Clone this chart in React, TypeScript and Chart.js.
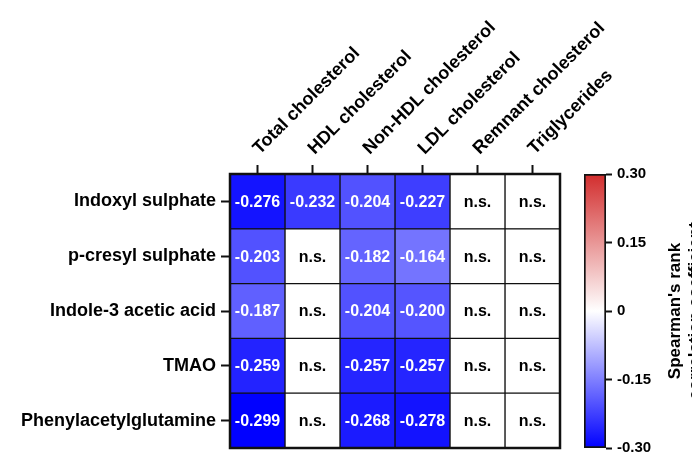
import React, { useEffect, useRef } from "react";
import { Chart, registerables } from "chart.js";

Chart.register(...registerables);

const ROWS = [
  "Indoxyl sulphate",
  "p-cresyl sulphate",
  "Indole-3 acetic acid",
  "TMAO",
  "Phenylacetylglutamine",
];
const COLUMNS = [
  "Total cholesterol",
  "HDL cholesterol",
  "Non-HDL cholesterol",
  "LDL cholesterol",
  "Remnant cholesterol",
  "Triglycerides",
];
// null = n.s.
const TOTAL_CHOL = [-0.276, -0.203, -0.187, -0.259, -0.299];
const HDL_CHOL = [-0.232, null, null, null, null];
const NON_HDL_CHOL = [-0.204, -0.182, -0.204, -0.257, -0.268];
const LDL_CHOL = [-0.227, -0.164, -0.2, -0.257, -0.278];
const REMNANT_CHOL = [null, null, null, null, null];
const TRIGLYCERIDES = [null, null, null, null, null];
const COLUMN_VALUES: (number | null)[][] = [
  TOTAL_CHOL,
  HDL_CHOL,
  NON_HDL_CHOL,
  LDL_CHOL,
  REMNANT_CHOL,
  TRIGLYCERIDES,
];
const SCALE_MIN = -0.3;
const SCALE_MAX = 0.3;
const SCALE_TICKS = [-0.3, -0.15, 0, 0.15, 0.3];
const SCALE_TICK_LABELS = ["-0.30", "-0.15", "0", "0.15", "0.30"];
const SCALE_TITLE = ["Spearman's rank", "correlation coefficient"];

const FONT = "'Liberation Sans', Arial, sans-serif";
const BLUE = [0, 0, 255];
const RED = [210, 45, 45];

function colorFor(v: number | null): string {
  if (v === null) return "#ffffff";
  const t = Math.min(1, Math.abs(v) / SCALE_MAX);
  const end = v < 0 ? BLUE : RED;
  const c = end.map((e) => Math.round(255 + (e - 255) * t));
  return `rgb(${c[0]},${c[1]},${c[2]})`;
}

const W = 692;
const H = 454;

export default function App() {
  const mainRef = useRef<HTMLCanvasElement>(null);
  const barRef = useRef<HTMLCanvasElement>(null);

  useEffect(() => {
    const valueLabels = {
      id: "valueLabels",
      afterDatasetsDraw(chart: any) {
        const ctx = chart.ctx;
        ctx.save();
        ctx.font = `bold 16px ${FONT}`;
        ctx.textAlign = "center";
        ctx.textBaseline = "middle";
        COLUMN_VALUES.forEach((col, j) => {
          const meta = chart.getDatasetMeta(j);
          meta.data.forEach((el: any, i: number) => {
            const v = col[i];
            const p = el.getCenterPoint();
            ctx.fillStyle = v === null ? "#000" : "#fff";
            ctx.fillText(v === null ? "n.s." : v.toFixed(3), p.x, p.y + 1);
          });
        });
        const a = chart.chartArea;
        ctx.strokeStyle = "#111";
        ctx.lineWidth = 2.5;
        ctx.strokeRect(a.left, a.top, a.right - a.left, a.bottom - a.top);
        ctx.restore();
      },
    };

    const main = new Chart(mainRef.current!, {
      type: "bar",
      data: {
        labels: ROWS,
        datasets: COLUMN_VALUES.map((col, j) => ({
          label: COLUMNS[j],
          data: ROWS.map(() => [j - 0.5, j + 0.5]),
          backgroundColor: col.map((v) => colorFor(v)),
          borderColor: "#111",
          borderWidth: 1,
          borderSkipped: false,
          grouped: false,
          barPercentage: 1,
          categoryPercentage: 1,
        })),
      } as any,
      options: {
        indexAxis: "y",
        responsive: false,
        animation: false,
        layout: { padding: { left: 0, top: 0, right: W - 560, bottom: H - 448 } },
        plugins: { legend: { display: false }, tooltip: { enabled: false } },
        scales: {
          y: {
            type: "category",
            position: "left",
            afterFit(axis: any) {
              axis.width = 230;
              axis.paddingTop = 0;
              axis.paddingBottom = 0;
            },
            grid: {
              display: true,
              offset: false,
              drawOnChartArea: false,
              drawTicks: true,
              tickLength: 9,
              tickWidth: 2,
              tickColor: "#111",
            },
            border: { display: false },
            ticks: {
              color: "#000",
              padding: 5,
              font: { family: FONT, size: 18, weight: "bold" },
            },
          },
          x: {
            type: "linear",
            position: "top",
            min: -0.5,
            max: COLUMNS.length - 0.5,
            afterFit(axis: any) {
              axis.height = 174;
              axis.paddingLeft = 0;
              axis.paddingRight = 0;
            },
            afterBuildTicks(axis: any) {
              axis.ticks = COLUMNS.map((_, i) => ({ value: i }));
            },
            grid: {
              display: true,
              drawOnChartArea: false,
              drawTicks: true,
              tickLength: 9,
              tickWidth: 2,
              tickColor: "#111",
            },
            border: { display: false },
            ticks: {
              autoSkip: false,
              minRotation: 45,
              maxRotation: 45,
              padding: 6,
              labelOffset: 14,
              color: "#000",
              font: { family: FONT, size: 18, weight: "bold" },
              callback: (v: any) => COLUMNS[v] ?? "",
            },
          },
        },
      } as any,
      plugins: [valueLabels],
    });

    const titlePlugin = {
      id: "scaleTitle",
      afterDraw(chart: any) {
        const ctx = chart.ctx;
        const y = chart.scales.y;
        const cy = y.getPixelForValue(0);
        ctx.save();
        ctx.translate(680, cy);
        ctx.rotate(-Math.PI / 2);
        ctx.font = `bold 17px ${FONT}`;
        ctx.fillStyle = "#000";
        ctx.textAlign = "center";
        ctx.textBaseline = "alphabetic";
        SCALE_TITLE.forEach((t, i) => ctx.fillText(t, 0, i * 20));
        ctx.restore();
      },
    };

    const bar = new Chart(barRef.current!, {
      type: "bar",
      data: {
        labels: [""],
        datasets: [
          {
            data: [[SCALE_MIN, SCALE_MAX]],
            backgroundColor: (c: any) => {
              const chart = c.chart;
              const ys = chart.scales.y;
              if (!chart.chartArea || !ys) return "#fff";
              const g = chart.ctx.createLinearGradient(
                0,
                ys.getPixelForValue(SCALE_MIN),
                0,
                ys.getPixelForValue(SCALE_MAX)
              );
              g.addColorStop(0, colorFor(SCALE_MIN));
              g.addColorStop(0.5, colorFor(0));
              g.addColorStop(1, colorFor(SCALE_MAX));
              return g;
            },
            borderColor: "#111",
            borderWidth: 2,
            borderSkipped: false,
            barPercentage: 1,
            categoryPercentage: 1,
          },
        ],
      } as any,
      options: {
        responsive: false,
        animation: false,
        layout: { padding: { left: 584, top: 174, right: 0, bottom: H - 448 } },
        plugins: { legend: { display: false }, tooltip: { enabled: false } },
        scales: {
          x: { display: false },
          y: {
            type: "linear",
            position: "right",
            min: SCALE_MIN,
            max: SCALE_MAX,
            afterFit(axis: any) {
              axis.width = W - 606;
              axis.paddingTop = 0;
              axis.paddingBottom = 0;
            },
            afterBuildTicks(axis: any) {
              axis.ticks = SCALE_TICKS.map((v) => ({ value: v }));
            },
            grid: {
              display: true,
              drawOnChartArea: false,
              drawTicks: true,
              tickLength: 6,
              tickWidth: 2,
              tickColor: "#111",
            },
            border: { display: false },
            ticks: {
              padding: 5,
              color: "#000",
              font: { family: FONT, size: 15, weight: "bold" },
              callback: (v: any) => {
                const k = SCALE_TICKS.findIndex((t) => Math.abs(t - v) < 1e-9);
                return k >= 0 ? SCALE_TICK_LABELS[k] : "";
              },
            },
          },
        },
      } as any,
      plugins: [titlePlugin],
    });

    return () => {
      main.destroy();
      bar.destroy();
    };
  }, []);

  return (
    <div
      style={{
        position: "fixed",
        left: 0,
        top: 0,
        width: W,
        height: H,
        background: "#fff",
        overflow: "hidden",
      }}
    >
      <canvas ref={mainRef} width={W} height={H} style={{ position: "absolute", left: 0, top: 0 }} />
      <canvas ref={barRef} width={W} height={H} style={{ position: "absolute", left: 0, top: 0 }} />
    </div>
  );
}
